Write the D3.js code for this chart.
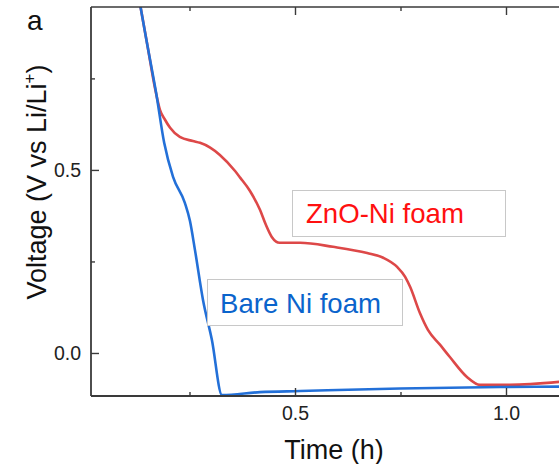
<!DOCTYPE html>
<html>
<head>
<meta charset="utf-8">
<script src="https://cdn.jsdelivr.net/npm/d3@7"></script>
<style>
  html, body { margin: 0; padding: 0; background: #fff; }
  svg { display: block; font-family: "Liberation Sans", Arial, sans-serif; }
</style>
</head>
<body>
<svg id="chart" width="559" height="464"></svg>
<script>
// ---- data ----
const bareTime = [0.126, 0.134, 0.150, 0.171, 0.190, 0.211, 0.239, 0.251, 0.263, 0.282, 0.303, 0.327, 0.417, 0.512, 0.749, 0.986, 1.126];
const bareVolt = [1.000, 0.945, 0.842, 0.710, 0.574, 0.481, 0.410, 0.361, 0.281, 0.145, 0.036, -0.115, -0.107, -0.104, -0.097, -0.093, -0.092];

const znoTime = [0.126, 0.134, 0.150, 0.169, 0.180, 0.192, 0.204, 0.227, 0.258, 0.275, 0.299, 0.322, 0.358, 0.370, 0.393, 0.417, 0.431, 0.445, 0.464, 0.512, 0.590, 0.671, 0.709, 0.742, 0.761, 0.773, 0.796, 0.815, 0.844, 0.867, 0.908, 0.938, 1.009, 1.126];
const znoVolt = [1.000, 0.945, 0.842, 0.719, 0.664, 0.637, 0.615, 0.590, 0.579, 0.574, 0.561, 0.541, 0.497, 0.479, 0.443, 0.391, 0.350, 0.317, 0.301, 0.301, 0.290, 0.273, 0.260, 0.235, 0.208, 0.180, 0.109, 0.063, 0.022, -0.011, -0.066, -0.087, -0.087, -0.079];

const xMajorTicks = [0.5, 1.0];
const xMinorTicks = [0.25, 0.75];
const yMajorTicks = [0.0, 0.5];
const yMinorTicks = [0.25, 0.75];

const seriesNames = ["ZnO-Ni foam", "Bare Ni foam"];

// ---- layout ----
const svg = d3.select("#chart");
const pLeft = 91, pTop = 7, pBottom = 396, pRight = 559;
const x = d3.scaleLinear().domain([0.0166, 0.5 + (pRight - 295) / 422]).range([pLeft, pRight]);
const y = d3.scaleLinear().domain([-0.1175, 0.945]).range([pBottom, pTop]);

const axisColor = "#3a3a3a";

// clip
svg.append("defs").append("clipPath").attr("id", "clip")
  .append("rect").attr("x", pLeft).attr("y", pTop).attr("width", pRight - pLeft).attr("height", pBottom - pTop);

// lines
const line = d3.line().x(d => x(d[0])).y(d => y(d[1])).curve(d3.curveMonotoneX);
const zno = znoTime.map((t, i) => [t, znoVolt[i]]);
const bare = bareTime.map((t, i) => [t, bareVolt[i]]);

const g = svg.append("g").attr("clip-path", "url(#clip)");
g.append("path").datum(zno).attr("d", line)
  .attr("fill", "none").attr("stroke", "#dd4848").attr("stroke-width", 2.6).attr("stroke-linejoin", "round");
g.append("path").datum(bare).attr("d", line)
  .attr("fill", "none").attr("stroke", "#2370d8").attr("stroke-width", 2.6).attr("stroke-linejoin", "round");

// axes (ticks inward)
const xAxisB = d3.axisBottom(x).tickValues(xMajorTicks).tickSize(-8).tickFormat(d3.format(".1f")).tickPadding(10);
const xAxisBm = d3.axisBottom(x).tickValues(xMinorTicks).tickSize(-4).tickFormat("");
const xAxisT = d3.axisTop(x).tickValues(xMajorTicks).tickSize(-8).tickFormat("");
const xAxisTm = d3.axisTop(x).tickValues(xMinorTicks).tickSize(-4).tickFormat("");
const yAxisL = d3.axisLeft(y).tickValues(yMajorTicks).tickSize(-8).tickFormat(d3.format(".1f")).tickPadding(10);
const yAxisLm = d3.axisLeft(y).tickValues(yMinorTicks).tickSize(-4).tickFormat("");

function style(sel) {
  sel.selectAll(".tick line").attr("stroke", axisColor).attr("stroke-width", 1.4);
  sel.selectAll(".tick text").attr("fill", "#222").style("font-size", "19.5px").style("font-family", "Liberation Sans, Arial, sans-serif");
}
svg.append("g").attr("transform", `translate(0,${pBottom})`).call(xAxisB).call(style);
svg.append("g").attr("transform", `translate(0,${pBottom})`).call(xAxisBm).call(style);
svg.append("g").attr("transform", `translate(0,${pTop})`).call(xAxisT).call(style);
svg.append("g").attr("transform", `translate(0,${pTop})`).call(xAxisTm).call(style);
svg.append("g").attr("transform", `translate(${pLeft},0)`).call(yAxisL).call(style);
svg.append("g").attr("transform", `translate(${pLeft},0)`).call(yAxisLm).call(style);

// plain spines
svg.selectAll(".domain").remove();
svg.append("line").attr("x1", pLeft).attr("x2", pRight).attr("y1", pBottom).attr("y2", pBottom).attr("stroke", axisColor).attr("stroke-width", 1.8);
svg.append("line").attr("x1", pLeft).attr("x2", pRight).attr("y1", pTop).attr("y2", pTop).attr("stroke", axisColor).attr("stroke-width", 1.6);
svg.append("line").attr("x1", pLeft).attr("x2", pLeft).attr("y1", pTop).attr("y2", pBottom).attr("stroke", axisColor).attr("stroke-width", 1.8);

// axis titles
svg.append("text").attr("x", 334).attr("y", 459).attr("text-anchor", "middle")
  .style("font-size", "27px").attr("fill", "#111").text("Time (h)");
const yl = svg.append("text").attr("transform", "translate(46,182) rotate(-90)").attr("text-anchor", "middle")
  .style("font-size", "27px").attr("fill", "#111");
yl.append("tspan").text("Voltage (V vs Li/Li");
yl.append("tspan").attr("dy", -11).style("font-size", "17px").text("+");
yl.append("tspan").attr("dy", 11).text(")");

// panel label
svg.append("text").attr("x", 27).attr("y", 30).style("font-size", "28px").attr("fill", "#111").text("a");

// legend boxes
svg.append("rect").attr("x", 292.5).attr("y", 190.5).attr("width", 213).attr("height", 46)
  .attr("fill", "#fff").attr("stroke", "#c8c8c8").attr("stroke-width", 1);
svg.append("text").attr("x", 306).attr("y", 223).style("font-size", "27.6px").attr("fill", "#ff1010").text(seriesNames[0]);
svg.append("rect").attr("x", 207.5).attr("y", 279.5).attr("width", 195).attr("height", 46)
  .attr("fill", "#fff").attr("stroke", "#c8c8c8").attr("stroke-width", 1);
svg.append("text").attr("x", 220).attr("y", 313).style("font-size", "27.6px").attr("fill", "#0a64cc").text(seriesNames[1]);
</script>
</body>
</html>
